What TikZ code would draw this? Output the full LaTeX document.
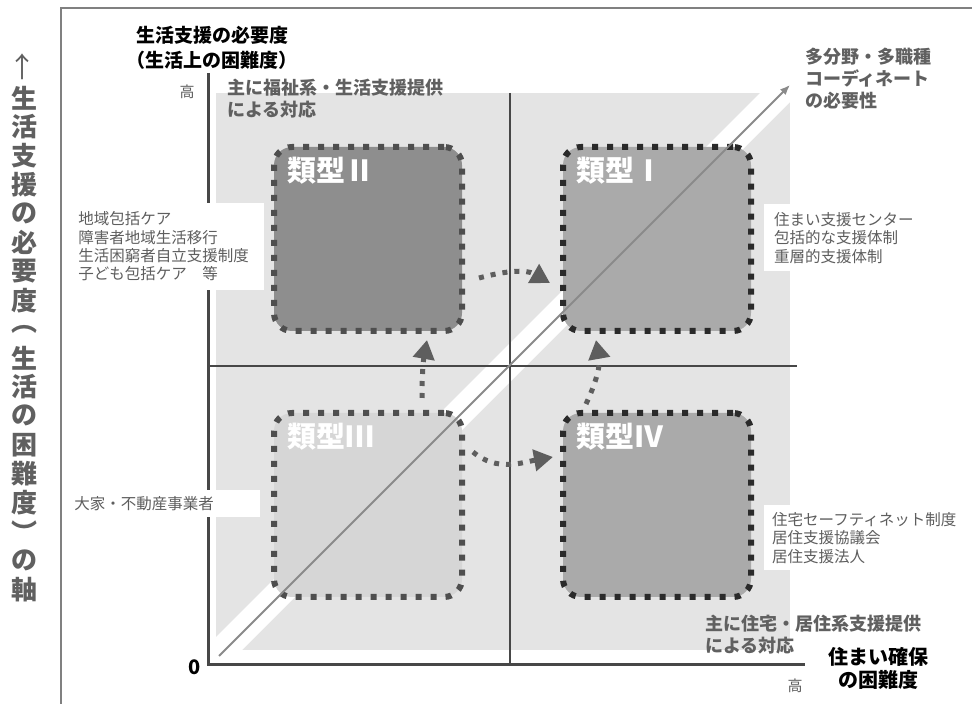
\documentclass[tikz,border=0pt]{standalone}
\usepackage{fontspec}
\setmainfont{Noto Sans CJK JP}
\usetikzlibrary{arrows.meta,positioning}
\definecolor{frameGray}{HTML}{808080}
\definecolor{axisGray}{HTML}{474747}
\definecolor{fieldGray}{HTML}{E4E4E4}
\definecolor{inkGray}{HTML}{606060}
\definecolor{noteGray}{HTML}{5E5E5E}
\definecolor{diagGray}{HTML}{8A8A8A}
\definecolor{hopGray}{HTML}{5E5E5E}
\definecolor{boxDark}{HTML}{8E8E8E}
\definecolor{boxMid}{HTML}{AAAAAA}
\definecolor{boxLight}{HTML}{D6D6D6}
\definecolor{edgeSoft}{HTML}{4E4E4E}
\definecolor{edgeHard}{HTML}{2A2A2A}
\tikzset{
  quadrant/.style={rounded corners=18pt, minimum width=188pt, minimum height=184pt,
                   line width=6pt, dash pattern=on 6pt off 9pt},
  typelabel/.style={text=white, font=\fontsize{29}{29}\selectfont\bfseries, inner sep=0pt},
  note/.style={fill=white, align=left, text=noteGray, font=\fontsize{15.5}{18.3}\selectfont},
  heading/.style={align=center, font=\fontsize{19}{25}\selectfont\bfseries},
  policy/.style={align=left, text=inkGray, font=\fontsize{18}{22}\selectfont\bfseries, inner sep=0pt},
  levelnote/.style={text=noteGray, font=\fontsize{15}{15}\selectfont},
  sidelabel/.style={text=inkGray, font=\fontsize{26}{26}\selectfont\bfseries, inner sep=0pt},
  hop/.style={draw=hopGray, line width=5pt, dash pattern=on 5pt off 7pt,
              -{Triangle[length=19pt,width=21pt]}},
  axis/.style={draw=axisGray, line width=3pt},
  divider/.style={draw=axisGray, line width=1.8pt}
}
\begin{document}
\begin{tikzpicture}[x=1pt, y=1pt, node distance=76pt]
  \useasboundingbox (0,0) rectangle (972,704);
  \fill[white] (0,0) rectangle (972,704);
  \draw[frameGray, line width=1.5pt] (61,0) -- (61,696) -- (972,696);
  \fill[fieldGray] (216,54) rectangle (790,611);
  \fill[white] (216,67) -- (760,611) -- (790,611) -- (790,602) -- (242,54) -- (216,54) -- cycle;
  \draw[divider] (510,611) -- (510,39);
  \draw[divider] (208,338) -- (797,338);
  \draw[axis] (208,631) -- (208,39) -- (805,39);

  \node[note, anchor=east, text width=182pt, minimum height=87pt] (welfare) at (264,457.5) {地域包括ケア\\障害者地域生活移行\\生活困窮者自立支援制度\\子ども包括ケア　等};
  \node[note, anchor=east, text width=182pt, minimum height=27pt] (owners) at (260,200.5) {大家・不動産事業者};
  \node[note, anchor=west, text width=150pt, minimum height=67pt, inner xsep=10pt] (centre) at (764,466) {住まい支援センター\\包括的な支援体制\\重層的支援体制};
  \node[note, anchor=west, text width=200pt, minimum height=65pt, inner xsep=8pt] (safety) at (764,166) {住宅セーフティネット制度\\居住支援協議会\\居住支援法人};

  \node[quadrant, draw=edgeSoft, fill=boxDark] (t2) at (368,465) {};
  \node[quadrant, draw=edgeHard, fill=boxMid, right=95pt of t2] (t1) {};
  \node[quadrant, draw=edgeSoft, fill=boxLight, below=of t2] (t3) {};
  \node[quadrant, draw=edgeHard, fill=boxMid, below=of t1] (t4) {};
  \node[typelabel, below right=13pt and 16pt of t2.north west] (l2) {類型Ⅱ};
  \node[typelabel, below right=13pt and 16pt of t1.north west] (l1) {類型Ⅰ};
  \node[typelabel, below right=13pt and 16pt of t3.north west] (l3) {類型Ⅲ};
  \node[typelabel, below right=13pt and 16pt of t4.north west] (l4) {類型Ⅳ};

  \coordinate (dlow) at (219,48);
  \coordinate (dhigh) at (790,619);
  \draw[diagGray, line width=1.8pt, -{Latex[length=10pt,width=8pt]}] (dlow) -- (dhigh);

  \draw[hop] ([xshift=14pt,yshift=-39pt]t2.east) to[out=15,in=150] ([xshift=-10pt,yshift=-44pt]t1.west);
  \draw[hop] ([xshift=54pt,yshift=12pt]t3.north) to[out=90,in=-100] ([xshift=59pt,yshift=-6pt]t2.south);
  \draw[hop] ([xshift=8pt,yshift=53pt]t3.east) to[out=-40,in=190] ([xshift=-7pt,yshift=48pt]t4.west);
  \draw[hop] ([xshift=-71pt,yshift=6pt]t4.north) to[out=65,in=-80] ([xshift=-61pt,yshift=-6pt]t1.south);

  \node[heading] (yname) at (212,656) {生活支援の必要度\\（生活上の困難度）};
  \node[levelnote] (yhigh) at (187,612) {高};
  \node[policy, anchor=west] (welfarenote) at (227,605) {主に福祉系・生活支援提供\\による対応};
  \node[policy, anchor=west] (housingnote) at (705,69) {主に住宅・居住系支援提供\\による対応};
  \node[policy, anchor=west] (coordnote) at (805,625) {多分野・多職種\\コーディネート\\の必要性};
  \node[heading, font=\fontsize{20}{23}\selectfont\bfseries] (xname) at (878,35.5) {住まい確保\\の困難度};
  \node[levelnote] (xhigh) at (795,18.5) {高};
  \node[font=\fontsize{20}{20}\selectfont\bfseries] (zero) at (195,36.5) {0};

  \node[sidelabel, font=\fontsize{28}{28}\selectfont] (vtip) at (23,637) {↑};
  \foreach \ch [count=\i from 0] in {生,活,支,援,の,必,要,度,︵,生,活,の,困,難,度,︶,の,軸}
    \node[sidelabel] (v\i) at (24,606-28.9*\i) {\ch};
\end{tikzpicture}
\end{document}
